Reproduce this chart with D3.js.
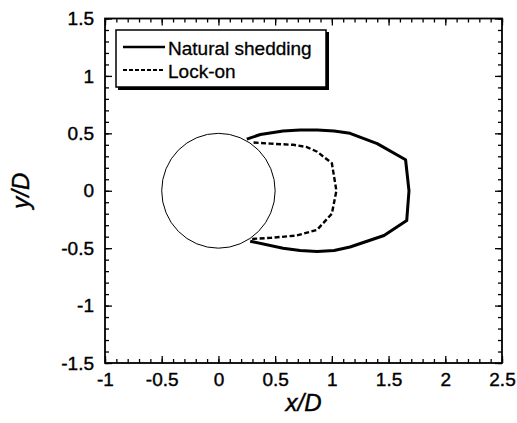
<!DOCTYPE html>
<html>
<head>
<meta charset="utf-8">
<script src="https://cdn.jsdelivr.net/npm/d3@7"></script>
<style>
  body { margin: 0; background: #fff; }
  text { font-family: Arial, "Liberation Sans", sans-serif; fill: #000; }
</style>
</head>
<body>
<div id="chart"></div>
<script>
// data (x/D, y/D)
const naturalShedding = [
  [0.25, 0.45], [0.37, 0.49], [0.57, 0.52], [0.72, 0.53], [0.87, 0.53], [1.02, 0.52],
  [1.16, 0.50], [1.40, 0.41], [1.65, 0.27], [1.68, 0.0], [1.66, -0.26], [1.46, -0.39],
  [1.16, -0.49], [1.02, -0.52], [0.87, -0.53], [0.72, -0.52], [0.57, -0.50], [0.28, -0.44]
];
const lockOn = [
  [0.31, 0.42], [0.46, 0.41], [0.66, 0.40], [0.78, 0.38], [0.87, 0.34], [1.00, 0.24],
  [1.04, 0.0], [1.00, -0.20], [0.87, -0.34], [0.69, -0.39], [0.46, -0.41], [0.29, -0.42]
];
const cylinder = { cx: 0, cy: 0, r: 0.5 };
const xTicks = [-1, -0.5, 0, 0.5, 1, 1.5, 2, 2.5];
const yTicks = [-1.5, -1, -0.5, 0, 0.5, 1, 1.5];
const legendItems = ["Natural shedding", "Lock-on"];

const margin = {top: 18.5, right: 15, bottom: 60, left: 105};
const width = 517 - margin.left - margin.right;
const height = 423 - margin.top - margin.bottom;

const svg = d3.select("#chart")
  .append("svg")
    .attr("width", 517)
    .attr("height", 423)
  .append("g")
    .attr("transform", `translate(${margin.left},${margin.top})`);

const xs = d3.scaleLinear().domain([-1, 2.5]).range([0, width]);
const ys = d3.scaleLinear().domain([-1.5, 1.5]).range([height, 0]);

// minor ticks every 0.1
const xMinor = d3.range(-10, 26).map(i => i / 10);
const yMinor = d3.range(-15, 16).map(i => i / 10);

function tickAxis(axis, scale, ticks, size, label) {
  return axis(scale).tickValues(ticks).tickSizeInner(-size).tickSizeOuter(0)
    .tickFormat(label ? (d => String(d)) : "");
}

// bottom
svg.append("g").attr("transform", `translate(0,${height})`)
  .call(tickAxis(d3.axisBottom, xs, xMinor, 4, false));
svg.append("g").attr("class", "xaxis").attr("transform", `translate(0,${height})`)
  .call(tickAxis(d3.axisBottom, xs, xTicks, 7, true));
// top
svg.append("g").call(tickAxis(d3.axisTop, xs, xMinor, 4, false));
svg.append("g").call(tickAxis(d3.axisTop, xs, xTicks, 7, false));
// left
svg.append("g").call(tickAxis(d3.axisLeft, ys, yMinor, 4, false));
svg.append("g").attr("class", "yaxis").call(tickAxis(d3.axisLeft, ys, yTicks, 7, true));
// right
svg.append("g").attr("transform", `translate(${width},0)`)
  .call(tickAxis(d3.axisRight, ys, yMinor, 4, false));
svg.append("g").attr("transform", `translate(${width},0)`)
  .call(tickAxis(d3.axisRight, ys, yTicks, 7, false));

svg.selectAll(".domain").remove();
svg.selectAll(".tick line").attr("stroke", "#000").attr("stroke-width", 1.3);
svg.selectAll(".xaxis text, .yaxis text")
  .style("font-size", "19px").attr("stroke", "#000").attr("stroke-width", 0.4);
svg.selectAll(".xaxis text").attr("y", 10).attr("dy", "0.71em");
svg.selectAll(".yaxis text").attr("x", -11);

// frame
svg.append("rect")
  .attr("width", width).attr("height", height)
  .attr("fill", "none").attr("stroke", "#000").attr("stroke-width", 1.8);

// cylinder
svg.append("ellipse")
  .attr("cx", xs(cylinder.cx)).attr("cy", ys(cylinder.cy))
  .attr("rx", xs(cylinder.r) - xs(0)).attr("ry", ys(0) - ys(cylinder.r))
  .attr("fill", "none").attr("stroke", "#000").attr("stroke-width", 1);

const line = d3.line().x(d => xs(d[0])).y(d => ys(d[1]));

svg.append("path").datum(naturalShedding)
  .attr("d", line).attr("fill", "none").attr("stroke", "#000")
  .attr("stroke-width", 3).attr("stroke-linejoin", "round");

svg.append("path").datum(lockOn)
  .attr("d", line).attr("fill", "none").attr("stroke", "#000")
  .attr("stroke-width", 2.4).attr("stroke-dasharray", "5,2.5");

// axis titles
svg.append("text")
  .attr("x", width / 2).attr("y", height + 48)
  .style("text-anchor", "middle").style("font-size", "24px").style("font-style", "italic")
  .attr("stroke", "#000").attr("stroke-width", 0.4)
  .text("x/D");

svg.append("text")
  .attr("transform", "rotate(-90)")
  .attr("x", -ys(0)).attr("y", -margin.left + 29)
  .style("text-anchor", "middle").style("font-size", "24px").style("font-style", "italic")
  .attr("stroke", "#000").attr("stroke-width", 0.4)
  .text("y/D");

// legend
const lg = svg.append("g").attr("transform", `translate(${116 - margin.left},${30 - margin.top})`);
lg.append("rect").attr("x", 2).attr("y", 2).attr("width", 211).attr("height", 58).attr("fill", "#000");
lg.append("rect").attr("width", 210).attr("height", 57)
  .attr("fill", "#fff").attr("stroke", "#000").attr("stroke-width", 1.5);
legendItems.forEach((name, i) => {
  const y = 17 + i * 23;
  lg.append("line").attr("x1", 7).attr("x2", 49).attr("y1", y).attr("y2", y)
    .attr("stroke", "#000").attr("stroke-width", i === 0 ? 2.6 : 1.8)
    .attr("stroke-dasharray", i === 0 ? null : "4,2");
  lg.append("text").attr("x", 52).attr("y", y + 8).style("font-size", "19px")
    .attr("stroke", "#000").attr("stroke-width", 0.3).text(name);
});
</script>
</body>
</html>
